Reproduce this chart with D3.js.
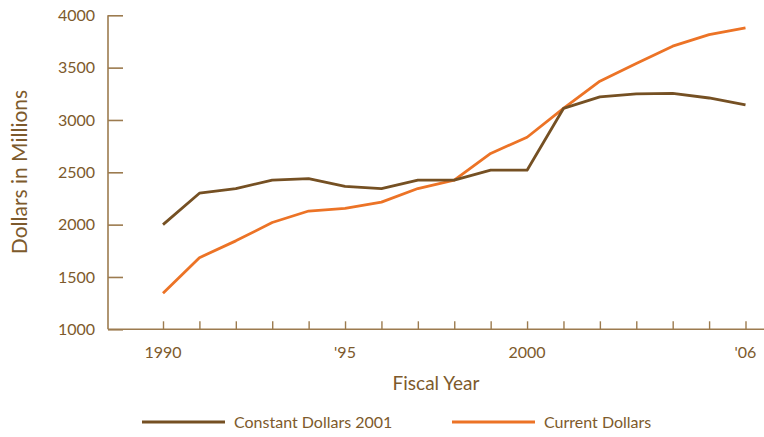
<!DOCTYPE html>
<html><head><meta charset="utf-8">
<script src="https://cdn.jsdelivr.net/npm/d3@7"></script>
<style>body{margin:0;background:#fff}svg{display:block}text{font-family:Lato,"Open Sans",sans-serif}</style>
</head><body><svg id="c" width="764" height="437"></svg>
<script>
const years = [1990,1991,1992,1993,1994,1995,1996,1997,1998,1999,2000,2001,2002,2003,2004,2005,2006];
const constantDollars = [2000,2300,2345,2425,2440,2365,2345,2425,2425,2520,2520,3110,3220,3250,3255,3210,3145];
const currentDollars = [1345,1684,1845,2020,2130,2155,2215,2345,2425,2680,2835,3110,3370,3540,3705,3815,3880];
const yTicks = [1000,1500,2000,2500,3000,3500,4000];
const xLabels = {1990:"1990",1995:"'95",2000:"2000",2006:"'06"};
const seriesNames = ["Constant Dollars 2001","Current Dollars"];

const brown = "#755023", orange = "#ec7326", axisC = "#9c7b4f", textC = "#7d5a2c";
const svg = d3.select("#c");
const x = d3.scaleLinear().domain([1990,2006]).range([163,745.5]);
const y = d3.scaleLinear().domain([1000,4000]).range([329.3,15.3]);
const left = 108, bottom = 329.3;

// y axis
const ya = svg.append("g").attr("transform",`translate(${left},0)`)
  .call(d3.axisRight(y).tickValues(yTicks).tickSize(15).tickFormat(""));
ya.select(".domain").remove();
ya.selectAll(".tick line").attr("stroke",axisC).attr("stroke-width",1.6);
svg.append("line").attr("x1",left).attr("x2",left).attr("y1",y(4000)).attr("y2",bottom).attr("stroke",axisC).attr("stroke-width",1.6);
svg.append("g").selectAll("text").data(yTicks).join("text")
  .attr("x",95).attr("y",d=>y(d)).attr("dy","0.35em").attr("text-anchor","end")
  .attr("font-size",16).attr("fill",textC).text(d=>d);

// x axis
const xa = svg.append("g").attr("transform",`translate(0,${bottom})`)
  .call(d3.axisTop(x).tickValues(years).tickSize(8).tickFormat(""));
xa.select(".domain").remove();
xa.selectAll(".tick line").attr("stroke",axisC).attr("stroke-width",1.4);
svg.append("line").attr("x1",left).attr("x2",764).attr("y1",bottom).attr("y2",bottom).attr("stroke",axisC).attr("stroke-width",1.6);
svg.append("g").selectAll("text").data(Object.keys(xLabels).map(Number)).join("text")
  .attr("x",d=>x(d)).attr("y",358).attr("text-anchor","middle")
  .attr("font-size",16).attr("fill",textC).text(d=>xLabels[d]);

svg.append("text").attr("x",436).attr("y",390).attr("text-anchor","middle")
  .attr("font-size",19).attr("fill",textC).text("Fiscal Year");
svg.append("text").attr("transform","translate(27,172) rotate(-90)").attr("text-anchor","middle")
  .attr("font-size",21).attr("fill",textC).text("Dollars in Millions");

// lines
const line = d3.line().x((d,i)=>x(years[i])).y(d=>y(d));
svg.append("path").attr("d",line(currentDollars)).attr("fill","none").attr("stroke",orange).attr("stroke-width",2.8).attr("stroke-linejoin","round");
svg.append("path").attr("d",line(constantDollars)).attr("fill","none").attr("stroke",brown).attr("stroke-width",2.8).attr("stroke-linejoin","round");

// legend
const leg = [{n:seriesNames[0],c:brown,x:142},{n:seriesNames[1],c:orange,x:452}];
const lg = svg.append("g").selectAll("g").data(leg).join("g");
lg.append("line").attr("x1",d=>d.x).attr("x2",d=>d.x+83).attr("y1",422).attr("y2",422).attr("stroke",d=>d.c).attr("stroke-width",3);
lg.append("text").attr("x",d=>d.x+92).attr("y",422).attr("dy","0.35em").attr("font-size",16).attr("fill",textC).text(d=>d.n);
</script></body></html>
